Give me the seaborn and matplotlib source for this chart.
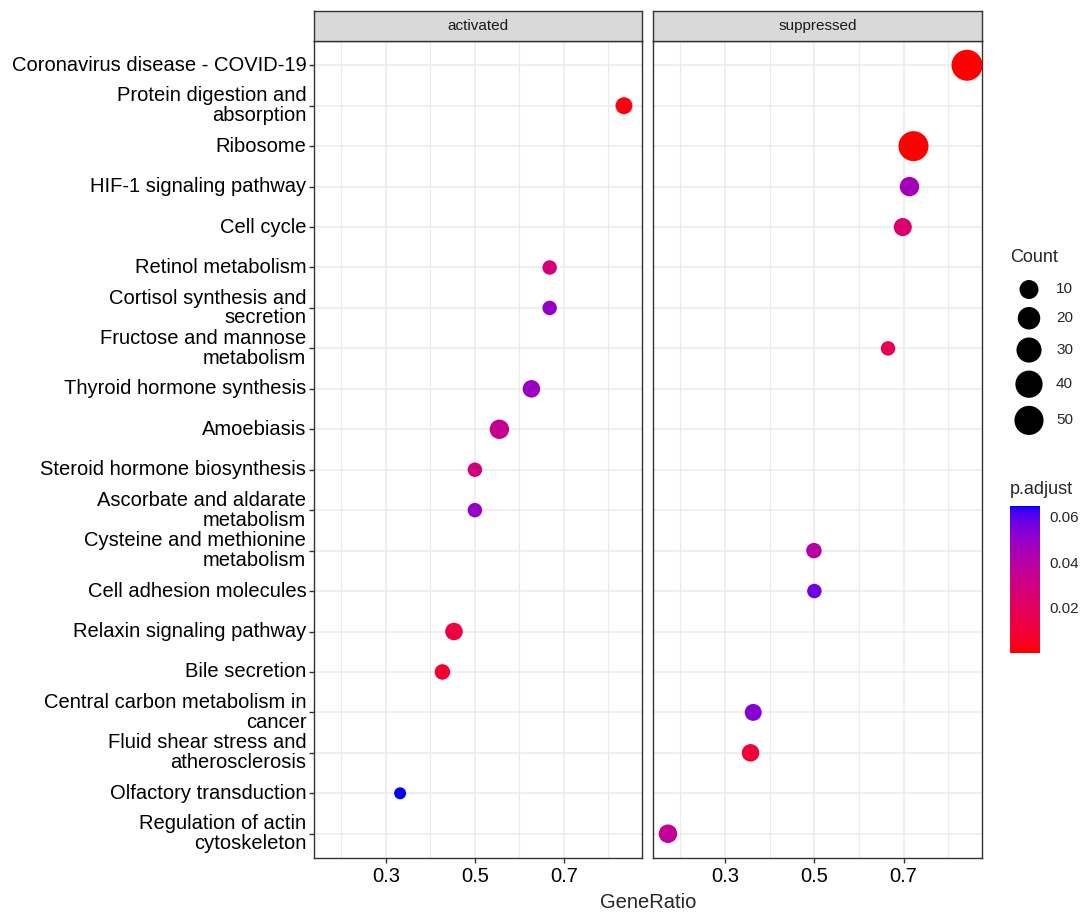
import numpy as np
import pandas as pd
import matplotlib

matplotlib.use("Agg")
import matplotlib.pyplot as plt
import seaborn as sns
from matplotlib.cm import ScalarMappable
from matplotlib.colors import ListedColormap, Normalize

# --- data ---
pathways = [
    "Coronavirus disease - COVID-19",
    "Protein digestion and\nabsorption",
    "Ribosome",
    "HIF-1 signaling pathway",
    "Cell cycle",
    "Retinol metabolism",
    "Cortisol synthesis and\nsecretion",
    "Fructose and mannose\nmetabolism",
    "Thyroid hormone synthesis",
    "Amoebiasis",
    "Steroid hormone biosynthesis",
    "Ascorbate and aldarate\nmetabolism",
    "Cysteine and methionine\nmetabolism",
    "Cell adhesion molecules",
    "Relaxin signaling pathway",
    "Bile secretion",
    "Central carbon metabolism in\ncancer",
    "Fluid shear stress and\natherosclerosis",
    "Olfactory transduction",
    "Regulation of actin\ncytoskeleton",
]

activated_terms = [
    "Protein digestion and\nabsorption",
    "Retinol metabolism",
    "Cortisol synthesis and\nsecretion",
    "Thyroid hormone synthesis",
    "Amoebiasis",
    "Steroid hormone biosynthesis",
    "Ascorbate and aldarate\nmetabolism",
    "Relaxin signaling pathway",
    "Bile secretion",
    "Olfactory transduction",
]
activated_ratio = [0.835, 0.668, 0.668, 0.627, 0.555, 0.500, 0.500, 0.453, 0.427, 0.332]
activated_count = [6, 3, 3, 7, 11, 3, 3, 7, 4, 2]
activated_padj = [0.002, 0.028, 0.050, 0.049, 0.034, 0.029, 0.050, 0.012, 0.008, 0.0648]

suppressed_terms = [
    "Coronavirus disease - COVID-19",
    "Ribosome",
    "HIF-1 signaling pathway",
    "Cell cycle",
    "Fructose and mannose\nmetabolism",
    "Cysteine and methionine\nmetabolism",
    "Cell adhesion molecules",
    "Central carbon metabolism in\ncancer",
    "Fluid shear stress and\natherosclerosis",
    "Regulation of actin\ncytoskeleton",
]
suppressed_ratio = [0.842, 0.722, 0.713, 0.698, 0.665, 0.499, 0.500, 0.363, 0.357, 0.172]
suppressed_count = [61, 55, 11, 8, 3, 4, 3, 6, 7, 9]
suppressed_padj = [0.0001, 0.0002, 0.046, 0.025, 0.017, 0.040, 0.057, 0.053, 0.010, 0.036]

groups = ["activated", "suppressed"]
legend_counts = [10, 20, 30, 40, 50]
cbar_ticks = [0.02, 0.04, 0.06]

W, H, DPI = 1086, 914, 100


def lab_ramp(c1, c2, n=256):
    # red -> blue gradient interpolated in CIELAB, like ggplot's gradient
    M = np.array([[0.4124, 0.3576, 0.1805], [0.2126, 0.7152, 0.0722], [0.0193, 0.1192, 0.9505]])
    white = np.array([0.95047, 1.0, 1.08883])

    def to_lab(rgb):
        rgb = np.asarray(rgb, float)
        lin = np.where(rgb <= 0.04045, rgb / 12.92, ((rgb + 0.055) / 1.055) ** 2.4)
        xyz = M @ lin / white
        f = np.where(xyz > (6 / 29) ** 3, np.cbrt(xyz), xyz / (3 * (6 / 29) ** 2) + 4 / 29)
        return np.array([116 * f[1] - 16, 500 * (f[0] - f[1]), 200 * (f[1] - f[2])])

    def to_rgb(lab):
        fy = (lab[0] + 16) / 116
        f = np.array([fy + lab[1] / 500, fy, fy - lab[2] / 200])
        xyz = np.where(f > 6 / 29, f**3, 3 * (6 / 29) ** 2 * (f - 4 / 29)) * white
        lin = np.clip(np.linalg.solve(M, xyz), 0, 1)
        return np.where(lin <= 0.0031308, 12.92 * lin, 1.055 * lin ** (1 / 2.4) - 0.055)

    a, b = to_lab(c1), to_lab(c2)
    return ListedColormap([to_rgb(a + (b - a) * t) for t in np.linspace(0, 1, n)])


cmap = lab_ramp((1, 0, 0), (0, 0, 1))

df = pd.concat(
    [
        pd.DataFrame({"term": activated_terms, "GeneRatio": activated_ratio,
                      "Count": activated_count, "p.adjust": activated_padj, "group": "activated"}),
        pd.DataFrame({"term": suppressed_terms, "GeneRatio": suppressed_ratio,
                      "Count": suppressed_count, "p.adjust": suppressed_padj, "group": "suppressed"}),
    ],
    ignore_index=True,
)
df["row"] = df["term"].map(pathways.index)

# size scale: diameter grows with sqrt of count (ggplot area scale)
cmin, cmax = df["Count"].min(), df["Count"].max()
D_MIN, D_MAX = 12, 31  # px


def count_area(c):
    d_px = D_MIN + (D_MAX - D_MIN) * np.sqrt((np.asarray(c, float) - cmin) / (cmax - cmin))
    return (d_px * 72 / DPI) ** 2


df["area"] = count_area(df["Count"])
amin, amax = count_area(cmin), count_area(cmax)
norm = Normalize(df["p.adjust"].min(), df["p.adjust"].max())

rng = df["GeneRatio"].max() - df["GeneRatio"].min()
xlim = (df["GeneRatio"].min() - 0.05 * rng, df["GeneRatio"].max() + 0.05 * rng)

sns.set_style("white")
plt.rcParams["font.family"] = ["Liberation Sans", "DejaVu Sans"]

fig = plt.figure(figsize=(W / DPI, H / DPI), dpi=DPI)


def px_axes(x0, y0, x1, y1):
    return fig.add_axes([x0 / W, 1 - y1 / H, (x1 - x0) / W, (y1 - y0) / H])


panels = [(314, 642), (653, 982)]
for i, (grp, (x0, x1)) in enumerate(zip(groups, panels)):
    ax = px_axes(x0, 41, x1, 858)
    sub = df[df["group"] == grp]
    sns.scatterplot(
        data=sub, x="GeneRatio", y="row", hue="p.adjust", palette=cmap, hue_norm=norm,
        size="area", sizes=(amin, amax), size_norm=(amin, amax),
        linewidth=0, legend=False, ax=ax, zorder=3,
    )
    ax.set_xlim(*xlim)
    ax.set_ylim(len(pathways) - 1 + 0.6, -0.6)
    ax.set_xticks([0.3, 0.5, 0.7])
    ax.set_xticks([0.2, 0.4, 0.6, 0.8], minor=True)
    ax.set_xticklabels(["0.3", "0.5", "0.7"])
    ax.set_yticks(range(len(pathways)))
    ax.grid(which="major", color="#EBEBEB", lw=1.1)
    ax.grid(which="minor", axis="x", color="#EBEBEB", lw=0.8)
    ax.set_axisbelow(True)
    for sp in ax.spines.values():
        sp.set_color("#333333")
        sp.set_linewidth(1.0)
    ax.tick_params(axis="x", which="major", bottom=True, length=3.5, width=1.0, color="#333333",
                   labelsize=14.5, labelcolor="black", pad=3)
    ax.tick_params(axis="x", which="minor", bottom=False)
    ax.set_xlabel("")
    ax.set_ylabel("")
    if i == 0:
        ax.set_yticklabels(pathways, fontsize=14.5, linespacing=1.05)
        for lab in ax.get_yticklabels():
            lab.set_va("center")
        ax.tick_params(axis="y", left=True, length=3.5, width=1.0, color="#333333",
                       labelcolor="black", pad=2)
    else:
        ax.tick_params(axis="y", left=False, labelleft=False)

    strip = px_axes(x0, 11, x1, 41)
    strip.set_facecolor("#D9D9D9")
    strip.set_xticks([])
    strip.set_yticks([])
    for sp in strip.spines.values():
        sp.set_color("#333333")
        sp.set_linewidth(1.0)
    strip.text(0.5, 0.5, grp, ha="center", va="center", fontsize=11, color="#1A1A1A",
               transform=strip.transAxes)

fig.text((314 + 982) / 2 / W, 1 - 903 / H, "GeneRatio", ha="center", va="center", fontsize=14.5)

# Count legend
ax_leg = px_axes(990, 240, 1086, 440)
ax_leg.set_xlim(990, 1086)
ax_leg.set_ylim(440, 240)
ax_leg.axis("off")
leg_area = count_area(legend_counts)
leg_d = np.sqrt(leg_area) * DPI / 72
key_h = leg_d + 8
centers = 276 + np.cumsum(key_h) - key_h / 2
leg_df = pd.DataFrame({"x": 1029.0, "y": centers, "area": leg_area})
sns.scatterplot(data=leg_df, x="x", y="y", size="area", sizes=(amin, amax), size_norm=(amin, amax),
                color="black", linewidth=0, legend=False, ax=ax_leg)
ax_leg.text(1010, 258, "Count", ha="left", va="center", fontsize=13)
for c, y in zip(legend_counts, centers):
    ax_leg.text(1056, y, str(c), ha="left", va="center", fontsize=11)

# p.adjust colour bar
fig.text(1010 / W, 1 - 490 / H, "p.adjust", ha="left", va="center", fontsize=13)
ax_cb = px_axes(1010, 506, 1040, 653)
cb = fig.colorbar(ScalarMappable(norm=norm, cmap=cmap), cax=ax_cb)
cb.outline.set_visible(False)
cb.set_ticks(cbar_ticks)
cb.set_ticklabels([f"{t:.2f}" for t in cbar_ticks])
ax_cb.tick_params(which="major", direction="in", length=6, width=1, color="white",
                  left=True, right=True, labelsize=11, pad=7)
ax_cb.tick_params(which="minor", left=False, right=False)

fig.savefig("out.png", dpi=DPI, facecolor="white")
